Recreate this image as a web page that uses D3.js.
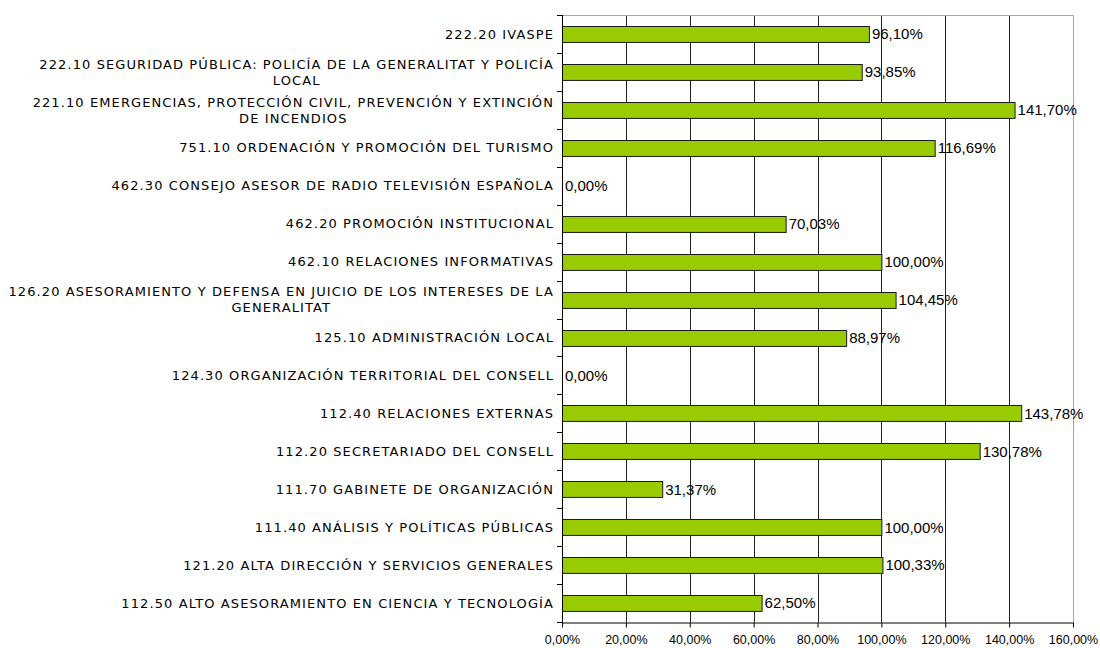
<!DOCTYPE html>
<html>
<head>
<meta charset="utf-8">
<script src="https://cdn.jsdelivr.net/npm/d3@7/dist/d3.min.js"></script>
<style>
  body { margin: 0; background: #fff; }
  svg { display: block; }
</style>
</head>
<body>
<div id="chart"></div>
<script>
const categories = [
  "222.20 IVASPE",
  "222.10 SEGURIDAD PÚBLICA: POLICÍA DE LA GENERALITAT Y POLICÍA\nLOCAL",
  "221.10 EMERGENCIAS, PROTECCIÓN CIVIL, PREVENCIÓN Y EXTINCIÓN\nDE INCENDIOS",
  "751.10 ORDENACIÓN Y PROMOCIÓN DEL TURISMO",
  "462.30 CONSEJO ASESOR DE RADIO TELEVISIÓN ESPAÑOLA",
  "462.20 PROMOCIÓN INSTITUCIONAL",
  "462.10 RELACIONES INFORMATIVAS",
  "126.20 ASESORAMIENTO Y DEFENSA EN JUICIO DE LOS INTERESES DE LA\nGENERALITAT",
  "125.10 ADMINISTRACIÓN LOCAL",
  "124.30 ORGANIZACIÓN TERRITORIAL DEL CONSELL",
  "112.40 RELACIONES EXTERNAS",
  "112.20 SECRETARIADO DEL CONSELL",
  "111.70 GABINETE DE ORGANIZACIÓN",
  "111.40 ANÁLISIS Y POLÍTICAS PÚBLICAS",
  "121.20 ALTA DIRECCIÓN Y SERVICIOS GENERALES",
  "112.50 ALTO ASESORAMIENTO EN CIENCIA Y TECNOLOGÍA"
]
const values = [96.10, 93.85, 141.70, 116.69, 0, 70.03, 100.00, 104.45, 88.97, 0, 143.78, 130.78, 31.37, 100.00, 100.33, 62.50]
const xTicks = [0, 20, 40, 60, 80, 100, 120, 140, 160]

const width = 1100
const height = 648
const margin = { top: 15, right: 27, bottom: 26, left: 562 }
const ARIAL = "'Liberation Sans', Arial, sans-serif"

const fmt = v => v.toFixed(2).replace(".", ",") + "%"

const svg = d3.select("#chart")
  .append("svg")
  .attr("width", width)
  .attr("height", height)

const x = d3.scaleLinear()
  .domain([0, 160])
  .range([margin.left, width - margin.right])

const y = d3.scaleBand()
  .domain(categories)
  .range([margin.top, height - margin.bottom])
  .paddingInner(0.58)
  .paddingOuter(0.29)

// Gridlines
svg.append("g")
  .selectAll("line")
  .data(xTicks.slice(1, -1))
  .join("line")
  .attr("x1", d => Math.round(x(d)) + 0.5)
  .attr("x2", d => Math.round(x(d)) + 0.5)
  .attr("y1", margin.top)
  .attr("y2", height - margin.bottom)
  .attr("stroke", "#222")
  .attr("stroke-width", 1)

// Top and right border
svg.append("path")
  .attr("d", `M${margin.left},${margin.top + 0.5}H${Math.round(x(160)) + 0.5}V${height - margin.bottom}`)
  .attr("fill", "none")
  .attr("stroke", "#a6a6a6")

// Bars
svg.append("g")
  .selectAll("rect")
  .data(values.map((v, i) => ({ v, c: categories[i] })).filter(d => d.v > 0))
  .join("rect")
  .attr("x", x(0) + 0.5)
  .attr("y", d => Math.round(y(d.c)) + 0.5)
  .attr("width", d => x(d.v) - x(0))
  .attr("height", y.bandwidth())
  .attr("fill", "#99cc00")
  .attr("stroke", "#1a1a1a")
  .attr("stroke-width", 1)

// Value labels
svg.append("g")
  .selectAll("text")
  .data(values)
  .join("text")
  .attr("x", d => x(d) + 3)
  .attr("y", (d, i) => y(categories[i]) + y.bandwidth() / 2)
  .attr("dy", "0.36em")
  .style("font-family", ARIAL)
  .style("font-size", "15px")
  .attr("fill", "#000")
  .text(fmt)

// Left axis with ticks at band boundaries
const step = y.step()
const bounds = d3.range(categories.length + 1).map(i => margin.top + i * step)
const left = svg.append("g")
left.append("line")
  .attr("x1", margin.left + 0.5).attr("x2", margin.left + 0.5)
  .attr("y1", margin.top).attr("y2", height - margin.bottom + 5)
  .attr("stroke", "#000")
left.selectAll("line.tick")
  .data(bounds)
  .join("line")
  .attr("class", "tick")
  .attr("x1", margin.left - 5).attr("x2", margin.left)
  .attr("y1", d => Math.round(d) + 0.5).attr("y2", d => Math.round(d) + 0.5)
  .attr("stroke", "#000")

// Category labels
const labels = left.selectAll("text")
  .data(categories)
  .join("text")
  .style("font-family", "'DejaVu Sans', Verdana, sans-serif")
  .style("font-size", "13px")
  .style("letter-spacing", "1.1px")
  .attr("fill", "#000")
  .attr("text-anchor", "middle")

labels.each(function(d) {
  const el = d3.select(this)
  const lines = d.split("\n")
  const cy = y(d) + y.bandwidth() / 2
  const lh = 16
  lines.forEach((line, i) => {
    el.append("tspan")
      .attr("y", cy + (i - (lines.length - 1) / 2) * lh)
      .attr("dy", "0.36em")
      .text(line)
  })
  // right-align block, center lines within it
  const widths = []
  el.selectAll("tspan").each(function() { widths.push(this.getComputedTextLength()) })
  const w = d3.max(widths)
  el.selectAll("tspan").attr("x", margin.left - 8 - w / 2)
})

// Bottom axis
const xAxis = d3.axisBottom(x)
  .tickValues(xTicks)
  .tickSize(5)
  .tickFormat(fmt)

svg.append("g")
  .attr("transform", `translate(0,${height - margin.bottom + 0.5})`)
  .call(xAxis)
  .call(g => g.select(".domain").attr("d", `M${margin.left},0.5H${x(160) + 0.5}`).attr("stroke", "#000"))
  .call(g => g.selectAll(".tick line").attr("stroke", "#000"))
  .call(g => g.selectAll(".tick text")
    .style("font-family", ARIAL)
    .style("font-size", "12.5px")
    .attr("fill", "#000")
    .attr("dy", "1.05em"))
</script>
</body>
</html>
